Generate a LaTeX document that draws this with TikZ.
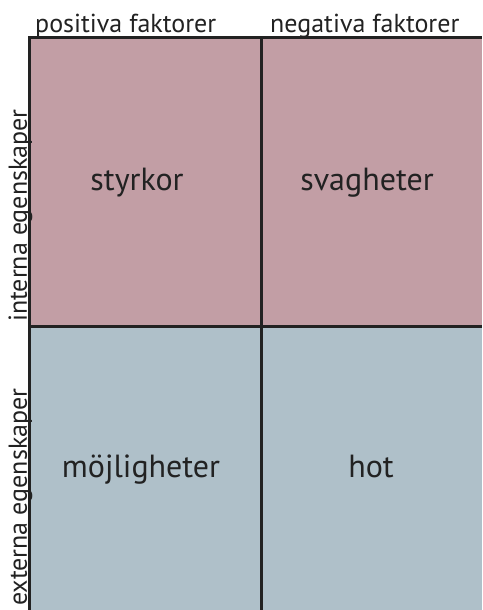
\documentclass[tikz,border=0pt]{standalone}
\usepackage{fontspec}
\setmainfont{PT Sans}
\usepackage{tikz}
\usetikzlibrary{positioning}
\definecolor{cint}{RGB}{194,158,165}
\definecolor{cext}{RGB}{175,192,201}
\definecolor{cline}{RGB}{34,34,34}
\tikzset{
  cell/.style={rectangle,draw=none,inner sep=0pt,anchor=north west},
  intcell/.style={cell,fill=cint},
  extcell/.style={cell,fill=cext},
  celllab/.style={anchor=base,inner sep=0pt,font=\fontsize{32}{38}\selectfont,text=cline},
  headlab/.style={anchor=base west,inner sep=0pt,font=\fontsize{26}{31}\selectfont,text=cline},
  sidelab/.style={anchor=base west,rotate=90,inner sep=0pt,font=\fontsize{26}{31}\selectfont,text=cline},
  grid/.style={draw=cline,line width=3pt}
}
\begin{document}
\begin{tikzpicture}[x=1pt,y=-1pt]
  \useasboundingbox (0,0) rectangle (482,610);
  % four fields
  \node[intcell,minimum width=232pt,minimum height=288pt] (s) at (29,38) {};
  \node[intcell,minimum width=221pt,minimum height=288pt] (w) at (261,38) {};
  \node[extcell,minimum width=232pt,minimum height=284pt] (o) at (29,326) {};
  \node[extcell,minimum width=221pt,minimum height=284pt] (t) at (261,326) {};
  % field texts
  \node[celllab] (slab) at (137,190) {styrkor};
  \node[celllab] (wlab) at (367,190) {svagheter};
  \node[celllab] (olab) at (141,477) {möjligheter};
  \node[celllab] (tlab) at (371,477) {hot};
  % headings
  \node[headlab] (pos) at (35,33) {positiva faktorer};
  \node[headlab] (neg) at (270,33) {negativa faktorer};
  \node[sidelab] (int) at (27,322) {interna egenskaper};
  \node[sidelab] (ext) at (27,606) {externa egenskaper};
  % grid lines
  \draw[grid] (o.south west) -- (s.north west) -- (w.north east);
  \draw[grid] (w.north west) -- (t.south west);
  \draw[grid] (o.north west) -- (t.north east);
\end{tikzpicture}
\end{document}
